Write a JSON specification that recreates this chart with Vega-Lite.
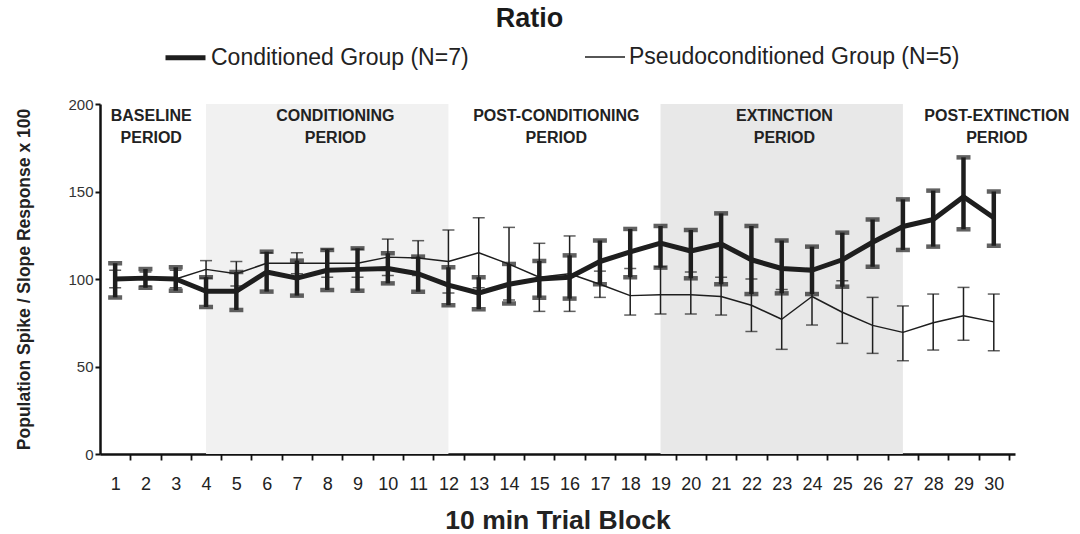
{
"$schema":"https://vega.github.io/schema/vega-lite/v6.json",
"width":915,"height":350,
"autosize":{"type":"none"},
"padding":{"left":100,"top":104,"right":65,"bottom":80},
"background":"#ffffff",
"title":{"text":"Ratio","fontSize":27,"font":"Liberation Sans","fontWeight":"bold","color":"#1a1a1a","anchor":"middle","dx":-28,"offset":2},
"config":{"view":{"stroke":null},"font":"Liberation Sans",
 "axisX":{"zindex":1,"labelOverlap":false,"labelFlush":false,"ticks":true,"tickSize":6,"tickWidth":1.8,"tickColor":"#111111","domainColor":"#111111","domainWidth":2.5,"labelFontSize":18,"labelColor":"#222222","labelPadding":15,"titleFontSize":26.5,"titleFontWeight":"bold","titleColor":"#222222","titlePadding":14,"grid":false},
 "axisY":{"zindex":1,"labelOverlap":false,"ticks":true,"tickSize":5,"tickWidth":2,"tickColor":"#111111","domainColor":"#111111","domainWidth":2.5,"labelFontSize":15,"labelColor":"#333333","labelPadding":2,"titleFontSize":17.5,"titleFontWeight":"bold","titleColor":"#222222","titlePadding":34,"grid":false}
},
"datasets":{
"series":[
{"block":1,"group":"Conditioned Group (N=7)","mean":100,"lo":89.5,"hi":109},
{"block":2,"group":"Conditioned Group (N=7)","mean":100.5,"lo":95,"hi":105.7},
{"block":3,"group":"Conditioned Group (N=7)","mean":100,"lo":93.3,"hi":106.7},
{"block":4,"group":"Conditioned Group (N=7)","mean":93,"lo":84,"hi":101},
{"block":5,"group":"Conditioned Group (N=7)","mean":93,"lo":82.3,"hi":104},
{"block":6,"group":"Conditioned Group (N=7)","mean":104,"lo":92.8,"hi":115.6},
{"block":7,"group":"Conditioned Group (N=7)","mean":100.5,"lo":90.5,"hi":110.5},
{"block":8,"group":"Conditioned Group (N=7)","mean":105,"lo":93.7,"hi":116.6},
{"block":9,"group":"Conditioned Group (N=7)","mean":105.5,"lo":93.3,"hi":117.5},
{"block":10,"group":"Conditioned Group (N=7)","mean":106,"lo":97.5,"hi":114.7},
{"block":11,"group":"Conditioned Group (N=7)","mean":103,"lo":92.7,"hi":112.8},
{"block":12,"group":"Conditioned Group (N=7)","mean":96.5,"lo":85,"hi":106.7},
{"block":13,"group":"Conditioned Group (N=7)","mean":92,"lo":82.7,"hi":101},
{"block":14,"group":"Conditioned Group (N=7)","mean":97,"lo":86,"hi":108.6},
{"block":15,"group":"Conditioned Group (N=7)","mean":100,"lo":89.3,"hi":110.3},
{"block":16,"group":"Conditioned Group (N=7)","mean":101,"lo":88.8,"hi":113.5},
{"block":17,"group":"Conditioned Group (N=7)","mean":110,"lo":97,"hi":122},
{"block":18,"group":"Conditioned Group (N=7)","mean":115.5,"lo":101,"hi":128.6},
{"block":19,"group":"Conditioned Group (N=7)","mean":120.5,"lo":106.5,"hi":130.3},
{"block":20,"group":"Conditioned Group (N=7)","mean":116,"lo":100.4,"hi":128},
{"block":21,"group":"Conditioned Group (N=7)","mean":120,"lo":97,"hi":137.5},
{"block":22,"group":"Conditioned Group (N=7)","mean":111,"lo":91.4,"hi":130.3},
{"block":23,"group":"Conditioned Group (N=7)","mean":106,"lo":91.8,"hi":122},
{"block":24,"group":"Conditioned Group (N=7)","mean":105,"lo":91.4,"hi":118.5},
{"block":25,"group":"Conditioned Group (N=7)","mean":111,"lo":95.6,"hi":126.5},
{"block":26,"group":"Conditioned Group (N=7)","mean":121,"lo":107,"hi":134},
{"block":27,"group":"Conditioned Group (N=7)","mean":130,"lo":116.6,"hi":145.5},
{"block":28,"group":"Conditioned Group (N=7)","mean":134,"lo":118.5,"hi":150.5},
{"block":29,"group":"Conditioned Group (N=7)","mean":147,"lo":128.4,"hi":169.5},
{"block":30,"group":"Conditioned Group (N=7)","mean":135,"lo":119,"hi":150},
{"block":1,"group":"Pseudoconditioned Group (N=5)","mean":100,"lo":95,"hi":105},
{"block":2,"group":"Pseudoconditioned Group (N=5)","mean":100,"lo":96,"hi":104},
{"block":3,"group":"Pseudoconditioned Group (N=5)","mean":100,"lo":95,"hi":105},
{"block":4,"group":"Pseudoconditioned Group (N=5)","mean":105.5,"lo":100.5,"hi":110.5},
{"block":5,"group":"Pseudoconditioned Group (N=5)","mean":103,"lo":96,"hi":110},
{"block":6,"group":"Pseudoconditioned Group (N=5)","mean":109,"lo":103,"hi":115},
{"block":7,"group":"Pseudoconditioned Group (N=5)","mean":109,"lo":103,"hi":115},
{"block":8,"group":"Pseudoconditioned Group (N=5)","mean":109,"lo":101,"hi":117},
{"block":9,"group":"Pseudoconditioned Group (N=5)","mean":109,"lo":101,"hi":117},
{"block":10,"group":"Pseudoconditioned Group (N=5)","mean":112.5,"lo":102,"hi":122.8},
{"block":11,"group":"Pseudoconditioned Group (N=5)","mean":112,"lo":102,"hi":121.9},
{"block":12,"group":"Pseudoconditioned Group (N=5)","mean":110,"lo":92,"hi":128},
{"block":13,"group":"Pseudoconditioned Group (N=5)","mean":115,"lo":95,"hi":135},
{"block":14,"group":"Pseudoconditioned Group (N=5)","mean":108.5,"lo":88,"hi":129.5},
{"block":15,"group":"Pseudoconditioned Group (N=5)","mean":101,"lo":81.5,"hi":120.4},
{"block":16,"group":"Pseudoconditioned Group (N=5)","mean":103,"lo":81.5,"hi":124.6},
{"block":17,"group":"Pseudoconditioned Group (N=5)","mean":97,"lo":89.5,"hi":104.5},
{"block":18,"group":"Pseudoconditioned Group (N=5)","mean":90.5,"lo":79.4,"hi":106},
{"block":19,"group":"Pseudoconditioned Group (N=5)","mean":91,"lo":80,"hi":107},
{"block":20,"group":"Pseudoconditioned Group (N=5)","mean":91,"lo":80,"hi":104},
{"block":21,"group":"Pseudoconditioned Group (N=5)","mean":90,"lo":79.4,"hi":101},
{"block":22,"group":"Pseudoconditioned Group (N=5)","mean":85,"lo":70,"hi":100},
{"block":23,"group":"Pseudoconditioned Group (N=5)","mean":77,"lo":59.8,"hi":94},
{"block":24,"group":"Pseudoconditioned Group (N=5)","mean":90,"lo":73.7,"hi":106},
{"block":25,"group":"Pseudoconditioned Group (N=5)","mean":81,"lo":63.2,"hi":99},
{"block":26,"group":"Pseudoconditioned Group (N=5)","mean":73.5,"lo":57.5,"hi":89.5},
{"block":27,"group":"Pseudoconditioned Group (N=5)","mean":69.5,"lo":53.3,"hi":84.6},
{"block":28,"group":"Pseudoconditioned Group (N=5)","mean":75,"lo":59.4,"hi":91.4},
{"block":29,"group":"Pseudoconditioned Group (N=5)","mean":79,"lo":65,"hi":95.2},
{"block":30,"group":"Pseudoconditioned Group (N=5)","mean":75.5,"lo":59,"hi":91.4}
],
"periods":[
{"label":"BASELINE\nPERIOD","pos":2.19,"level":198},
{"label":"CONDITIONING\nPERIOD","pos":8.27,"level":198},
{"label":"POST-CONDITIONING\nPERIOD","pos":15.56,"level":198},
{"label":"EXTINCTION\nPERIOD","pos":23.09,"level":198},
{"label":"POST-EXTINCTION\nPERIOD","pos":30.1,"level":198}
],
"shading":[
{"period":"Conditioning","start":4,"end":12},
{"period":"Extinction","start":19,"end":27}
]
},
"layer":[
{"data":{"name":"shading"},
 "mark":{"type":"rect"},
 "encoding":{
  "x":{"field":"start","type":"quantitative","title":"10 min Trial Block","scale":{"domain":[0.5,30.7],"nice":false,"zero":false},
   "axis":{"values":[1,2,3,4,5,6,7,8,9,10,11,12,13,14,15,16,17,18,19,20,21,22,23,24,25,26,27,28,29,30],"format":"d","tickOffset":15.14,"labelOffset":-15.14,"labelOverlap":false,"title":"10 min Trial Block"}},
  "x2":{"field":"end"},
  "y":{"datum":0,"type":"quantitative","title":"Population Spike / Slope Response x 100","scale":{"domain":[0,200],"nice":false},
   "axis":{"values":[0,50,100,150,200],"title":"Population Spike / Slope Response x 100"}},
  "y2":{"datum":200},
  "fill":{"field":"period","type":"nominal","scale":{"domain":["Conditioning","Extinction"],"range":["#f1f1f1","#e8e8e8"]},"legend":null}
 }},
{"mark":{"type":"rule","color":"#1e1e1e","strokeWidth":1.6},"encoding":{"y":{"datum":100,"type":"quantitative","title":"Population Spike / Slope Response x 100","axis":{"values":[0,50,100,150,200],"title":"Population Spike / Slope Response x 100"}}}},
{"data":{"name":"series"},
 "transform":[{"filter":{"field":"group","equal":"Pseudoconditioned Group (N=5)"}}],
 "mark":{"type":"errorbar","ticks":true,"size":12,"thickness":1.5,"color":"#1e1e1e"},
 "encoding":{"x":{"field":"block","type":"quantitative","title":"10 min Trial Block","axis":{"values":[1,2,3,4,5,6,7,8,9,10,11,12,13,14,15,16,17,18,19,20,21,22,23,24,25,26,27,28,29,30],"format":"d","tickOffset":15.14,"labelOffset":-15.14,"labelOverlap":false,"title":"10 min Trial Block"}},"y":{"field":"lo","type":"quantitative","title":"Population Spike / Slope Response x 100","axis":{"values":[0,50,100,150,200],"title":"Population Spike / Slope Response x 100"}},"y2":{"field":"hi"}}},
{"data":{"name":"series"},
 "transform":[{"filter":{"field":"group","equal":"Conditioned Group (N=7)"}}],
 "mark":{"type":"errorbar","ticks":true,"size":14,"thickness":4.5,"color":"#1e1e1e"},
 "encoding":{"x":{"field":"block","type":"quantitative","title":"10 min Trial Block","axis":{"values":[1,2,3,4,5,6,7,8,9,10,11,12,13,14,15,16,17,18,19,20,21,22,23,24,25,26,27,28,29,30],"format":"d","tickOffset":15.14,"labelOffset":-15.14,"labelOverlap":false,"title":"10 min Trial Block"}},"y":{"field":"lo","type":"quantitative","title":"Population Spike / Slope Response x 100","axis":{"values":[0,50,100,150,200],"title":"Population Spike / Slope Response x 100"}},"y2":{"field":"hi"}}},
{"data":{"name":"series"},
 "mark":{"type":"line","strokeJoin":"round"},
 "encoding":{
  "x":{"field":"block","type":"quantitative","title":"10 min Trial Block","axis":{"values":[1,2,3,4,5,6,7,8,9,10,11,12,13,14,15,16,17,18,19,20,21,22,23,24,25,26,27,28,29,30],"format":"d","tickOffset":15.14,"labelOffset":-15.14,"labelOverlap":false,"title":"10 min Trial Block"}},
  "y":{"field":"mean","type":"quantitative","title":"Population Spike / Slope Response x 100","axis":{"values":[0,50,100,150,200],"title":"Population Spike / Slope Response x 100"}},
  "color":{"field":"group","type":"nominal","scale":{"domain":["Conditioned Group (N=7)","Pseudoconditioned Group (N=5)"],"range":["#1e1e1e","#1e1e1e"]},
   "legend":{"orient":"none","legendX":63,"legendY":-69,"direction":"horizontal","title":null,"labelFontSize":23,"labelFont":"Liberation Sans","labelColor":"#222222","labelLimit":0,"symbolType":"stroke","symbolSize":1600,"columnPadding":113,"labelOffset":3}},
  "strokeWidth":{"field":"group","type":"nominal","scale":{"domain":["Conditioned Group (N=7)","Pseudoconditioned Group (N=5)"],"range":[5,1.5]},
   "legend":{"orient":"none","legendX":63,"legendY":-69,"direction":"horizontal","title":null,"labelFontSize":23,"labelFont":"Liberation Sans","labelColor":"#222222","labelLimit":0,"symbolType":"stroke","symbolSize":1600,"columnPadding":113,"labelOffset":3}}
 }},
{"data":{"name":"periods"},
 "mark":{"type":"text","font":"Liberation Sans","fontSize":16,"fontWeight":"bold","align":"center","baseline":"top","lineBreak":"\n","lineHeight":22,"color":"#222222"},
 "encoding":{
  "x":{"field":"pos","type":"quantitative","title":"10 min Trial Block","axis":{"values":[1,2,3,4,5,6,7,8,9,10,11,12,13,14,15,16,17,18,19,20,21,22,23,24,25,26,27,28,29,30],"format":"d","tickOffset":15.14,"labelOffset":-15.14,"labelOverlap":false,"title":"10 min Trial Block"}},
  "y":{"field":"level","type":"quantitative","title":"Population Spike / Slope Response x 100","axis":{"values":[0,50,100,150,200],"title":"Population Spike / Slope Response x 100"}},
  "text":{"field":"label","type":"nominal"}
 }}
]
}
